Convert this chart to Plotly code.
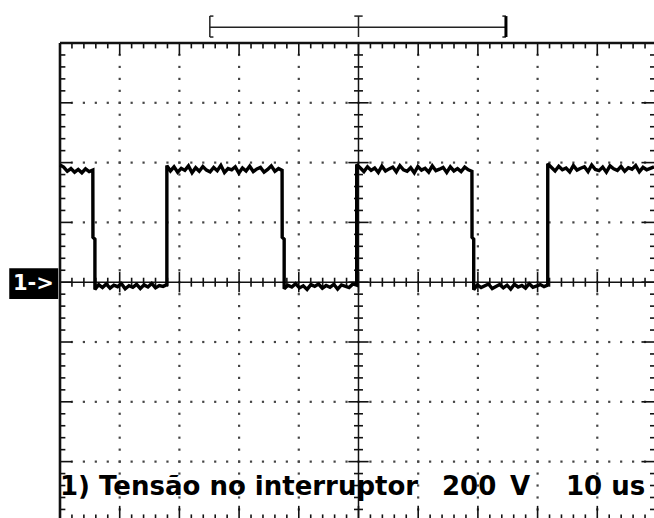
import numpy as np
import plotly.graph_objects as go

# scope settings
us_per_div = 10
volts_per_div = 200

# edge times (us, 0 = left edge of graticule)
fall_start = [5.5, 37.2, 69.0]
fall_end = [5.85, 37.55, 69.3]
rise_at = [17.9, 49.7, 81.7]
fall_kink_v = 150  # small step halfway down each falling edge
screen_end_us = 99.5

# sampled voltages of each flat part (V)
high1_v = [392, 385, 371, 380, 368, 377, 366, 379, 370, 375]
low1_v = [-24, -8, -18, -6, -20, -10, -15, -5, -22, -12, -17, -7, -21, -9, -16, -4, -19, -11, -14, -8]
high2_v = [390, 372, 386, 368, 381, 374, 389, 366, 383, 371, 387, 375, 369, 384, 373, 391, 367,
           380, 376, 386, 365, 382, 372, 388, 370, 379, 384, 368, 377, 389, 371, 380, 374]
low2_v = [-22, -10, -16, -5, -19, -12, -24, -8, -14, -6, -20, -11, -17, -7, -23, -9, -13, -18, -6, -10]
high3_v = [394, 380, 370, 386, 374, 382, 367, 388, 372, 379, 385, 369, 390, 376, 371, 383, 366,
           387, 375, 381, 368, 389, 373, 378, 384, 367, 386, 372, 380, 370, 385, 376, 371]
low3_v = [-25, -9, -18, -12, -6, -21, -14, -8, -19, -10, -23, -7, -16, -11, -20, -5, -17, -13, -8, -15, -10]
high4_v = [396, 384, 372, 388, 376, 382, 369, 390, 375, 381, 386, 370, 392, 377, 373, 385, 368,
           389, 379, 374, 387, 371, 383, 378, 390, 369, 384, 376, 380, 386]

channel_label = "1->"
caption = "1) Tensão no interruptor"
scale_v = ["200", "V"]
scale_t = "10 us"

# build the trace
highs = [high1_v, high2_v, high3_v, high4_v]
lows = [low1_v, low2_v, low3_v]
starts = [0] + rise_at
ends = fall_start + [screen_end_us]
t, v = [], []
for i, hv in enumerate(highs):
    t += list(np.linspace(starts[i], ends[i], len(hv)))
    v += hv
    if i < len(lows):
        t += [fall_start[i] + 0.02, fall_end[i]]
        v += [fall_kink_v, fall_kink_v - 6]
        t += list(np.linspace(fall_end[i], rise_at[i], len(lows[i])))
        v += lows[i]

fig = go.Figure()

def seglines(segs, width, color="#111"):
    xs, ys = [], []
    for (x0, y0, x1, y1) in segs:
        xs += [x0 * us_per_div, x1 * us_per_div, None]
        ys += [y0 * volts_per_div, y1 * volts_per_div, None]
    fig.add_trace(go.Scatter(x=xs, y=ys, mode="lines", line=dict(color=color, width=width),
                             hoverinfo="skip", showlegend=False))

# graticule dots
dx, dy = [], []
for k in range(1, 10):
    if k == 5:
        continue
    for j in range(-19, 20):
        dx.append(k * us_per_div)
        dy.append(j * 0.2 * volts_per_div)
for k in range(-3, 4):
    if k == 0:
        continue
    for i in range(1, 50):
        dx.append(i * 0.2 * us_per_div)
        dy.append(k * volts_per_div)
fig.add_trace(go.Scatter(x=dx, y=dy, mode="markers",
                         marker=dict(symbol="square", size=2.2, color="#444", line=dict(width=0)),
                         hoverinfo="skip", showlegend=False))

# ticks
ticks = []
for i in range(0, 51):
    L = 0.2 if i % 5 == 0 else 0.09
    x = i * 0.2
    ticks.append((x, 4, x, 4 - L))
    ticks.append((x, -4, x, -4 + L * 1.3))
    L2 = 0.17 if i % 5 == 0 else 0.075
    ticks.append((x, -L2, x, L2))
for j in range(-20, 21):
    y = j * 0.2
    L = 0.2 if j % 5 == 0 else 0.09
    ticks.append((0, y, L, y))
    ticks.append((10, y, 10 - L * 1.3, y))
    L2 = 0.17 if j % 5 == 0 else 0.075
    ticks.append((5 - L2, y, 5 + L2, y))
seglines(ticks, 1.6)

# borders and centre axes
seglines([(0, 4, 10, 4), (0, -4, 0, 4), (10, -4, 10, 4), (0, -4, 10, -4)], 2.6)
seglines([(0, 0, 10, 0), (5, -4, 5, 4)], 1.5)

# signal
fig.add_trace(go.Scatter(x=t, y=v, mode="lines", line=dict(color="#000", width=3.4),
                         hoverinfo="skip", showlegend=False))

# time-base bracket above the screen
by, btop, bbot = 853, 890, 820
brk = [(25.1, by, 74.7, by), (25.1, btop, 25.1, bbot), (25.1, btop, 25.7, btop), (25.1, bbot, 25.7, bbot),
       (50, btop, 50, bbot), (49.3, btop, 50.7, btop),
       (74.1, btop, 74.7, btop), (74.1, bbot, 74.7, bbot)]
for (x0, y0, x1, y1) in brk:
    fig.add_shape(type="line", x0=x0, y0=y0, x1=x1, y1=y1, line=dict(color="#222", width=1.5))
fig.add_shape(type="line", x0=74.7, y0=btop, x1=74.7, y1=bbot, line=dict(color="#000", width=3))

# channel marker
fig.add_shape(type="rect", x0=-8.5, x1=-0.3, y0=-56, y1=47, fillcolor="#000", line=dict(width=0))
fig.add_annotation(x=-4.4, y=-4, text=channel_label, showarrow=False,
                   font=dict(family="DejaVu Sans", size=21, color="white", weight="bold"))

# caption line
cfont = dict(family="DejaVu Sans", size=26, color="#000", weight="bold")
fig.add_annotation(x=-0.4, y=-683, text=caption, showarrow=False, xanchor="left", font=cfont)
fig.add_annotation(x=63.6, y=-683, text=scale_v[0], showarrow=False, xanchor="left", font=cfont)
fig.add_annotation(x=75.0, y=-683, text=scale_v[1], showarrow=False, xanchor="left", font=cfont)
fig.add_annotation(x=98.3, y=-683, text=scale_t, showarrow=False, xanchor="right", font=cfont)

fig.update_xaxes(visible=False, range=[-10.05, 99.5])
fig.update_yaxes(visible=False, range=[-788.6, 943.8])
fig.update_layout(width=654, height=518, margin=dict(l=0, r=0, t=0, b=0),
                  plot_bgcolor="white", paper_bgcolor="white")

fig.write_html("out.html", config={"displayModeBar": False},
               post_script="document.body.style.margin='0';")
